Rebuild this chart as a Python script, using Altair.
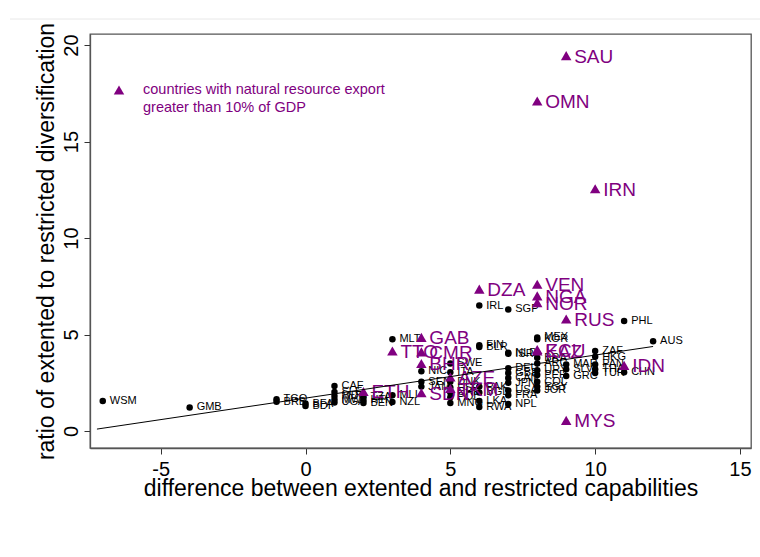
import altair as alt
import pandas as pd

# Countries without large natural-resource exports (black dots)
black_codes = [
    "WSM", "GMB", "TGO", "BRB", "BDI", "BFA",
    "CAF", "SLE", "MDG", "MWI", "UGA",
    "TZA", "HTI", "BEN",
    "MLT", "MLI", "NZL",
    "NIC", "SEN", "JAM",
    "SWE", "ITA", "DNK", "ESP", "CHE", "POL", "MNG",
    "IRL", "FIN", "BLR", "PAK", "BGD", "LKA", "RWA",
    "SGP", "NLD", "ISR", "DEU", "GBR", "CAN", "JPN", "USA", "FRA", "NPL",
    "MEX", "KOR", "BRA", "ARG", "URY", "PER", "COL", "EGY", "JOR",
    "MAR", "SLV", "GRC",
    "ZAF", "HKG", "PAN", "THA", "TUR",
    "PHL", "CHN", "AUS",
]
black_x = [
    -7, -4, -1, -1, 0, 0,
    1, 1, 1, 1, 1,
    2, 2, 2,
    3, 3, 3,
    4, 4, 4,
    5, 5, 5, 5, 5, 5, 5,
    6, 6, 6, 6, 6, 6, 6,
    7, 7, 7, 7, 7, 7, 7, 7, 7, 7,
    8, 8, 8, 8, 8, 8, 8, 8, 8,
    9, 9, 9,
    10, 10, 10, 10, 10,
    11, 11, 12,
]
black_y = [
    1.55, 1.22, 1.65, 1.52, 1.30, 1.42,
    2.33, 2.02, 1.82, 1.63, 1.48,
    1.75, 1.60, 1.45,
    4.75, 1.85, 1.50,
    3.10, 2.55, 2.30,
    3.50, 3.05, 2.55, 2.25, 2.00, 1.75, 1.45,
    6.50, 4.45, 4.35, 2.30, 2.00, 1.55, 1.25,
    6.30, 4.05, 4.00, 3.25, 3.00, 2.75, 2.50, 2.10, 1.85, 1.40,
    4.85, 4.75, 3.80, 3.50, 3.15, 2.90, 2.55, 2.30, 2.10,
    3.45, 3.20, 2.85,
    4.15, 3.85, 3.45, 3.20, 3.00,
    5.70, 3.05, 4.65,
]

# Countries with natural resource exports above 10% of GDP (purple triangles)
res_codes = [
    "SAU", "OMN", "IRN", "VEN", "DZA", "NGA", "NOR", "RUS",
    "GAB", "TTO", "CMR", "ECU", "KAZ", "BHR", "AZE", "TKM",
    "SDN", "ETH", "IDN", "MYS",
]
res_x = [9, 8, 10, 8, 6, 8, 8, 9, 4, 3, 4, 8, 8, 4, 5, 5, 4, 2, 11, 9]
res_y = [
    19.45, 17.10, 12.55, 7.60, 7.35, 7.00, 6.65, 5.80,
    4.85, 4.15, 4.10, 4.22, 4.15, 3.50, 2.80, 2.20,
    1.98, 2.05, 3.40, 0.55,
]

# Linear fit over the observed range
fit_x = [-7.2, 12]
fit_y = [0.10, 4.38]

x_ticks = [-5, 0, 5, 10, 15]
y_ticks = [0, 5, 10, 15, 20]

PURPLE = "#800080"
FONT = "Liberation Sans"

pts = pd.DataFrame({"code": black_codes, "x": black_x, "y": black_y})
res = pd.DataFrame({"code": res_codes, "x": res_x, "y": res_y})
fit = pd.DataFrame({"x": fit_x, "y": fit_y})

x_scale = alt.Scale(domain=[-7.44, 15.38], nice=False, zero=False)
y_scale = alt.Scale(domain=[-0.88, 20.57], nice=False, zero=False)

# plain hyphen for negative tick labels
plain_label = "'' + datum.value"

x_enc = alt.X(
    "x:Q", scale=x_scale,
    axis=alt.Axis(
        values=x_ticks, title="difference between extented and restricted capabilities",
        labelExpr=plain_label, labelPadding=5, titlePadding=-2,
    ),
)
y_enc = alt.Y(
    "y:Q", scale=y_scale,
    axis=alt.Axis(
        values=y_ticks, title="ratio of extented to restricted diversification",
        labelExpr=plain_label,
        labelAngle=270, labelAlign="center", labelBaseline="bottom",
        labelPadding=3, titlePadding=3,
    ),
)

dots = alt.Chart(pts).mark_point(
    shape="circle", filled=True, size=42, color="black", opacity=1
).encode(x=x_enc, y=y_enc)

dot_labels = alt.Chart(pts).mark_text(
    align="left", baseline="middle", dx=7, fontSize=11, font=FONT, color="black"
).encode(x=x_enc, y=y_enc, text="code:N")

tris = alt.Chart(res).mark_point(
    shape="triangle-up", filled=True, size=110, color=PURPLE, opacity=1
).encode(x=x_enc, y=y_enc)

tri_labels = alt.Chart(res).mark_text(
    align="left", baseline="middle", dx=8, dy=1, fontSize=19, font=FONT, color=PURPLE
).encode(x=x_enc, y=y_enc, text="code:N")

fit_line = alt.Chart(fit).mark_line(color="black", strokeWidth=1).encode(x=x_enc, y=y_enc)

key_df = pd.DataFrame({"k": [0]})
key_symbol = alt.Chart(key_df).mark_point(
    shape="triangle-up", filled=True, size=110, color=PURPLE, opacity=1
).encode(x=alt.value(29), y=alt.value(56))
key_text = alt.Chart(key_df).mark_text(
    align="left", baseline="top", fontSize=14.5, font=FONT, color=PURPLE,
    lineBreak="\n", lineHeight=18,
).encode(
    x=alt.value(53), y=alt.value(49),
    text=alt.value("countries with natural resource export\ngreater than 10% of GDP"),
)

page_rule = alt.Chart(key_df).mark_rule(color="#e8e8e8", strokeWidth=1).encode(
    x=alt.value(-80), x2=alt.value(670), y=alt.value(-15)
)

chart = alt.layer(
    page_rule, dots, dot_labels, tris, tri_labels, fit_line, key_symbol, key_text
).properties(
    width=661, height=414,
    autosize=alt.AutoSizeParams(type="none"),
    padding={"left": 90, "top": 34, "right": 9, "bottom": 109},
    background="white",
).configure_view(
    stroke="#555555", strokeWidth=1.3,
).configure_axis(
    grid=False, domainColor="#555555", domainWidth=1.3,
    tickColor="#333333", tickSize=6, tickWidth=1,
    labelFont=FONT, titleFont=FONT, labelFontSize=20, titleFontSize=23,
    labelColor="black", titleColor="black", titleFontWeight="normal",
)

chart.save("out.html", embed_options={"renderer": "svg", "actions": False})
